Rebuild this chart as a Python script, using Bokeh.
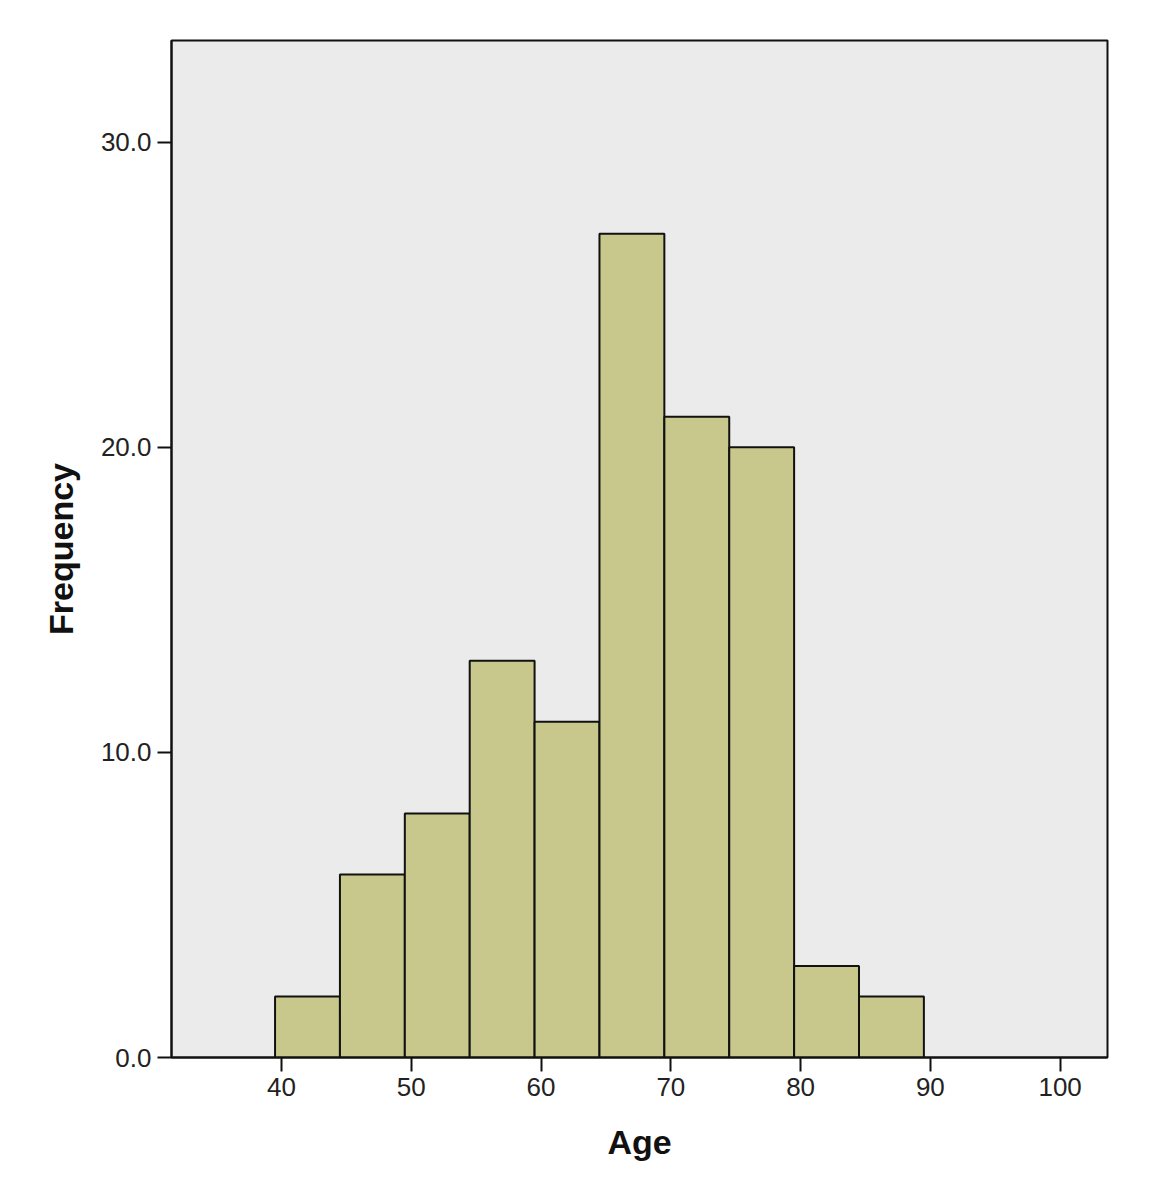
from bokeh.plotting import figure
from bokeh.models import Range1d, FixedTicker, NumeralTickFormatter, ColumnDataSource
from bokeh.embed import file_html
from bokeh.resources import INLINE

# Data: histogram of Age
bin_left = [39.5, 44.5, 49.5, 54.5, 59.5, 64.5, 69.5, 74.5, 79.5, 84.5]
bin_right = [44.5, 49.5, 54.5, 59.5, 64.5, 69.5, 74.5, 79.5, 84.5, 89.5]
frequency = [2, 6, 8, 13, 11, 27, 21, 20, 3, 2]
x_ticks = [40, 50, 60, 70, 80, 90, 100]
y_ticks = [0, 10, 20, 30]

src = ColumnDataSource(dict(left=bin_left, right=bin_right, top=frequency,
                            bottom=[0] * len(frequency)))

p = figure(output_backend="svg", toolbar_location=None,
           frame_width=936, frame_height=1017,
           x_range=Range1d(31.52, 103.65), y_range=Range1d(0, 33.33),
           min_border_left=171, min_border_top=40, min_border_right=40,
           min_border_bottom=128)

p.background_fill_color = "#EBEBEB"
p.border_fill_color = "white"
p.outline_line_color = "#111111"
p.outline_line_width = 2
p.grid.visible = False

p.quad(left="left", right="right", top="top", bottom="bottom", source=src,
       fill_color="#C8C88C", line_color="#111111", line_width=2)

for ax in (p.xaxis[0], p.yaxis[0]):
    ax.axis_line_color = "#111111"
    ax.axis_line_width = 2
    ax.major_tick_line_color = "#111111"
    ax.major_tick_line_width = 2
    ax.major_tick_out = 14
    ax.major_tick_in = 0
    ax.minor_tick_line_color = None
    ax.major_label_text_font = "Liberation Sans"
    ax.major_label_text_font_size = "26px"
    ax.major_label_text_color = "#222222"
    ax.major_label_standoff = 6
    ax.axis_label_text_font = "Liberation Sans"
    ax.axis_label_text_font_size = "34px"
    ax.axis_label_text_font_style = "bold"
    ax.axis_label_text_color = "#111111"

p.xaxis.ticker = FixedTicker(ticks=x_ticks)
p.yaxis.ticker = FixedTicker(ticks=y_ticks)
p.yaxis.formatter = NumeralTickFormatter(format="0.0")
p.xaxis.axis_label = "Age"
p.yaxis.axis_label = "Frequency"
p.xaxis.axis_label_standoff = 24
p.yaxis.axis_label_standoff = 18

open("out.html", "w").write(file_html(p, INLINE))
